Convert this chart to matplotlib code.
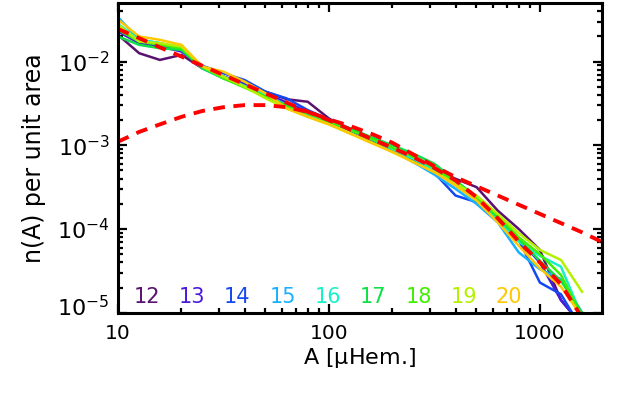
import numpy as np
import matplotlib
matplotlib.use("Agg")
import matplotlib.pyplot as plt
import matplotlib.transforms as mtransforms
from matplotlib.ticker import LogLocator, LogFormatterMathtext, NullFormatter, FixedLocator

plt.rcParams['font.family'] = ['DejaVu Sans']
plt.rcParams['mathtext.default'] = 'regular'

# ---- data (log10 of n(A) per unit area), bins A = 10..1585 uHem ----
area_bins = [10, 12.6, 15.8, 20, 25.1, 31.6, 39.8, 50.1, 63.1, 79.4, 100, 126, 158,
             200, 251, 316, 398, 501, 631, 794, 1000, 1259, 1585]

cycles = ['12', '13', '14', '15', '16', '17', '18', '19', '20']
cycle_colors = ['#5a1270', '#4a1ad8', '#1448f0', '#18b0ff', '#18f0c8',
                '#10e048', '#40f000', '#b4f000', '#ffc800']

log_n_12 = [-1.68, -1.90, -1.98, -1.92, -2.08, -2.18, -2.27, -2.36, -2.45, -2.48, -2.68, -2.82,
            -2.93, -3.04, -3.15, -3.28, -3.40, -3.50, -3.78, -4.00, -4.25, -4.85, -5.15]
log_n_13 = [-1.64, -1.78, -1.82, -1.88, -2.06, -2.18, -2.26, -2.38, -2.49, -2.60, -2.70, -2.82,
            -2.94, -3.06, -3.18, -3.31, -3.48, -3.62, -3.86, -4.12, -4.40, -4.85, -5.15]
log_n_14 = [-1.62, -1.76, -1.80, -1.86, -2.05, -2.14, -2.22, -2.36, -2.44, -2.58, -2.69, -2.80,
            -2.92, -3.05, -3.20, -3.33, -3.60, -3.68, -3.90, -4.13, -4.64, -4.78, -5.20]
log_n_15 = [-1.47, -1.74, -1.78, -1.84, -2.08, -2.20, -2.30, -2.42, -2.53, -2.63, -2.72, -2.82,
            -2.92, -3.05, -3.20, -3.35, -3.52, -3.70, -3.92, -4.28, -4.48, -4.60, -5.00]
log_n_16 = [-1.55, -1.74, -1.78, -1.85, -2.06, -2.18, -2.29, -2.40, -2.52, -2.62, -2.72, -2.80,
            -2.92, -3.04, -3.16, -3.30, -3.48, -3.66, -3.88, -4.15, -4.32, -4.45, -5.05]
log_n_17 = [-1.70, -1.80, -1.84, -1.86, -2.08, -2.20, -2.30, -2.42, -2.52, -2.62, -2.70, -2.80,
            -2.90, -3.00, -3.10, -3.22, -3.42, -3.62, -3.86, -4.12, -4.38, -4.62, -5.00]
log_n_18 = [-1.62, -1.76, -1.80, -1.84, -2.06, -2.20, -2.31, -2.42, -2.54, -2.62, -2.72, -2.82,
            -2.92, -3.03, -3.14, -3.27, -3.44, -3.62, -3.84, -4.10, -4.30, -4.55, -5.05]
log_n_19 = [-1.56, -1.76, -1.78, -1.82, -2.06, -2.18, -2.30, -2.44, -2.56, -2.66, -2.75, -2.86,
            -2.96, -3.08, -3.20, -3.32, -3.46, -3.60, -3.82, -4.05, -4.25, -4.37, -4.75]
log_n_20 = [-1.50, -1.70, -1.74, -1.80, -2.06, -2.12, -2.24, -2.38, -2.56, -2.66, -2.75, -2.86,
            -2.97, -3.08, -3.20, -3.32, -3.48, -3.66, -3.92, -4.20, -4.47, -4.69, -5.05]

series = [log_n_12, log_n_13, log_n_14, log_n_15, log_n_16, log_n_17, log_n_18, log_n_19, log_n_20]

# red dashed fits
fit_steep_A = [10, 12.6, 15.8, 20, 25.1, 31.6, 39.8, 50.1, 63.1, 79.4, 100, 126, 158, 200, 251,
               316, 398, 501, 631, 794, 1000, 1259, 1585]
fit_steep_logn = [-1.61, -1.72, -1.83, -1.94, -2.05, -2.16, -2.27, -2.38, -2.49, -2.60, -2.70,
                  -2.81, -2.92, -3.03, -3.14, -3.27, -3.42, -3.62, -3.87, -4.15, -4.40, -4.66, -5.06]

fit_shallow_A = [10, 12.6, 15.8, 20, 25.1, 31.6, 39.8, 50.1, 63.1, 79.4, 100, 126, 158, 200,
                 251, 316, 398, 501, 631, 794, 1000, 1259, 1585, 1970]
fit_shallow_logn = [-2.957, -2.84, -2.75, -2.66, -2.59, -2.545, -2.52, -2.52, -2.545, -2.60,
                    -2.69, -2.77, -2.86, -2.97, -3.11, -3.25, -3.38, -3.49, -3.60, -3.71,
                    -3.82, -3.93, -4.04, -4.155]

# ---- plot ----
fig = plt.figure(figsize=(6.19, 3.97), dpi=100)
ax = fig.add_axes([118 / 619, (397 - 312.7) / 397, (602 - 118) / 619, (312.7 - 3.3) / 397])
ax.set_xscale('log')
ax.set_yscale('log')

for vals, col in zip(series, cycle_colors):
    ax.plot(area_bins, 10.0 ** np.array(vals), color=col, lw=1.8, solid_joinstyle='miter')

ax.plot(fit_steep_A, 10.0 ** np.array(fit_steep_logn), color='#ff0000', lw=2.8,
        dashes=(3, 2.2))
ax.plot(fit_shallow_A, 10.0 ** np.array(fit_shallow_logn), color='#ff0000', lw=2.8,
        dashes=(3, 2.2))

ax.set_xlim(10, 1970)
ax.set_ylim(1e-5, 0.0497)

ax.xaxis.set_major_locator(FixedLocator([10, 100, 1000]))
ax.set_xticklabels(['10', '100', '1000'])
ax.xaxis.set_minor_locator(LogLocator(base=10, subs=np.arange(2, 10)))
ax.xaxis.set_minor_formatter(NullFormatter())
ax.yaxis.set_major_locator(FixedLocator([1e-5, 1e-4, 1e-3, 1e-2]))
ax.yaxis.set_major_formatter(LogFormatterMathtext())
ax.yaxis.set_minor_locator(LogLocator(base=10, subs=np.arange(2, 10), numticks=20))
ax.yaxis.set_minor_formatter(NullFormatter())

ax.tick_params(which='both', direction='in', top=True, right=True, width=1.6, color='black')
ax.tick_params(which='major', length=6.5)
ax.tick_params(which='minor', length=3.5)
ax.tick_params(axis='x', which='major', pad=8, labelsize=14.5)
ax.tick_params(axis='y', which='major', pad=6, labelsize=16)
for sp in ax.spines.values():
    sp.set_linewidth(2.2)

ax.set_xlabel(r'A [$\mu$Hem.]', fontsize=16, labelpad=2)
ax.set_ylabel('n(A) per unit area', fontsize=17, labelpad=8)

for i, (lab, col) in enumerate(zip(cycles, cycle_colors)):
    ax.text(0.0593 + i * 0.0936, 0.0507, lab, color=col, fontsize=15,
            ha='center', va='center', transform=ax.transAxes)

# lift the bottom y tick label a little, as in the original
fig.canvas.draw()
bottom_tick = ax.yaxis.get_major_ticks()[0]
bottom_tick.label1.set_transform(bottom_tick.label1.get_transform() +
                                 mtransforms.ScaledTranslation(0, 7 / 100, fig.dpi_scale_trans))

fig.savefig('out.png', dpi=100)
